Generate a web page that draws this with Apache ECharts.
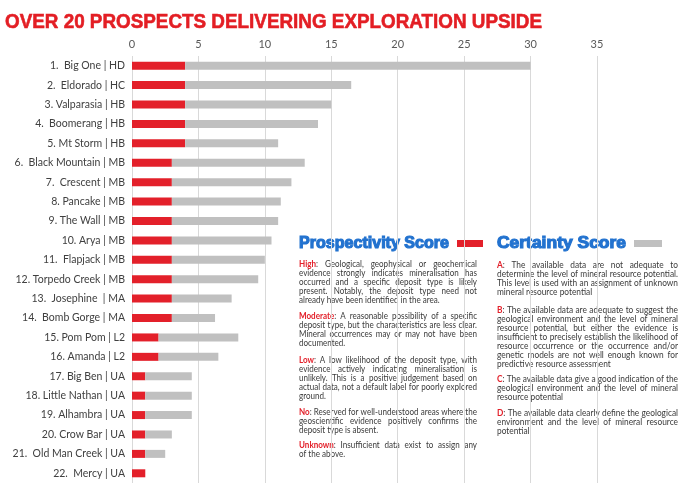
<!DOCTYPE html>
<html>
<head>
<meta charset="utf-8">
<script src="https://cdn.jsdelivr.net/npm/echarts@6/dist/echarts.min.js"></script>
<style>html,body{margin:0;padding:0;background:#fff;}#c{width:690px;height:491px;}</style>
</head>
<body>
<div id="c"></div>
<script>
const titleText = 'OVER 20 PROSPECTS DELIVERING EXPLORATION UPSIDE';
const categories = [
  '1.  Big One | HD', '2.  Eldorado | HC', '3. Valparasia | HB', '4.  Boomerang | HB',
  '5. Mt Storm | HB', '6.  Black Mountain | MB', '7.  Crescent | MB', '8. Pancake | MB',
  '9. The Wall | MB', '10. Arya | MB', '11.  Flapjack | MB', '12. Torpedo Creek | MB',
  '13.  Josephine  | MA', '14.  Bomb Gorge | MA', '15. Pom Pom | L2', '16. Amanda | L2',
  '17. Big Ben | UA', '18. Little Nathan | UA', '19. Alhambra | UA', '20. Crow Bar | UA',
  '21.  Old Man Creek | UA', '22.  Mercy | UA'
];
const prospectivity = [4, 4, 4, 4, 4, 3, 3, 3, 3, 3, 3, 3, 3, 3, 2, 2, 1, 1, 1, 1, 1, 1];
const certainty = [26, 12.5, 11, 10, 7, 10, 9, 8.2, 8, 7.5, 7, 6.5, 4.5, 3.25, 6, 4.5, 3.5, 3.5, 3.5, 2, 1.5, 0];
const axisMin = 0, axisMax = 35, axisStep = 5;

const legendProspect = 'Prospectivity Score';
const legendCertainty = 'Certainty Score';

const prospectParas = [
  { key: 'High', lines: ['Geological, geophysical or geochemical', 'evidence strongly indicates mineralisation has', 'occurred and a specific deposit type is likely', 'present. Notably, the deposit type need not', 'already have been identified in the area.'] },
  { key: 'Moderate', lines: ['A reasonable possibility of a specific', 'deposit type, but the characteristics are less clear.', 'Mineral occurrences may or may not have been', 'documented.'] },
  { key: 'Low', lines: ['A low likelihood of the deposit type, with', 'evidence actively indicating mineralisation is', 'unlikely. This is a positive judgement based on', 'actual data, not a default label for poorly explored', 'ground.'] },
  { key: 'No', lines: ['Reserved for well-understood areas where the', 'geoscientific evidence positively confirms the', 'deposit type is absent.'] },
  { key: 'Unknown', lines: ['Insufficient data exist to assign any', 'of the above.'] }
];
const certaintyParas = [
  { key: 'A', lines: ['The available data are not adequate to', 'determine the level of mineral resource potential.', 'This level is used with an assignment of unknown', 'mineral resource potential'] },
  { key: 'B', lines: ['The available data are adequate to suggest the', 'geological environment and the level of mineral', 'resource potential, but either the evidence is', 'insufficient to precisely establish the likelihood of', 'resource occurrence or the occurrence and/or', 'genetic models are not well enough known for', 'predictive resource assessment'] },
  { key: 'C', lines: ['The available data give a good indication of the', 'geological environment and the level of mineral', 'resource potential'] },
  { key: 'D', lines: ['The available data clearly define the geological', 'environment and the level of mineral resource', 'potential'] }
];

// ---- layout helpers ----
const RED = '#E3202A', GRAY = '#C0C0C0', BLUE = '#2272CF', TXT = '#3a3a3a';
const BODY_FONT = 'Lato, "Open Sans", sans-serif';
const cv = document.createElement('canvas').getContext('2d');
function tw(t, size, weight, family) { cv.font = weight + ' ' + size + 'px ' + family; return cv.measureText(t).width; }

const graphics = [];
function addText(x, y, text, size, weight, family, fill, sx, strokeW) {
  const style = { text: text, fontSize: size, fontWeight: weight, fontFamily: family, fill: fill, verticalAlign: 'middle', align: 'left' };
  if (strokeW) { style.stroke = fill; style.lineWidth = strokeW; }
  graphics.push({ type: 'text', x: x, y: y, scaleX: sx || 1, silent: true, style: style });
}

// title fit to width
const TF = '"Liberation Sans", Arial, sans-serif';
const titleSize = 20;
addText(5, 22, titleText, titleSize, 'bold', TF, '#E31E24', 537 / tw(titleText, titleSize, 'bold', TF), 0.6);

// legend headings
const HF = '"Liberation Sans", Arial, sans-serif';
const hs = 16;
addText(299, 244, legendProspect, hs, 'bold', HF, BLUE, 150 / tw(legendProspect, hs, 'bold', HF), 1.1);
addText(497, 244, legendCertainty, hs, 'bold', HF, BLUE, 129 / tw(legendCertainty, hs, 'bold', HF), 1.1);
graphics.push({ type: 'rect', shape: { x: 457, y: 240, width: 26, height: 7 }, style: { fill: RED }, silent: true });
graphics.push({ type: 'rect', shape: { x: 634, y: 240, width: 28, height: 7 }, style: { fill: GRAY }, silent: true });

function layoutColumn(paras, x0, colW, startYs, lh) {
  const fs = 9;
  let maxW = 0;
  paras.forEach(p => p.lines.forEach((l, i) => {
    let w = tw(l, fs, 'normal', BODY_FONT);
    if (i === 0) w += tw(p.key, fs, 'bold', BODY_FONT) + tw(': ', fs, 'normal', BODY_FONT);
    if (w > maxW) maxW = w;
  }));
  const sx = Math.min(1, colW / maxW);
  paras.forEach((p, pi) => {
    p.lines.forEach((line, li) => {
      const y = startYs[pi] + li * lh;
      let tokens = line.split(' ').map(w => ({ t: w }));
      if (li === 0) tokens.unshift({ t: p.key, colon: true });
      const widths = tokens.map(tk => sx * (tk.colon ? tw(tk.t, fs, 'bold', BODY_FONT) + tw(':', fs, 'normal', BODY_FONT) : tw(tk.t, fs, 'normal', BODY_FONT)));
      const sumW = widths.reduce((a, b) => a + b, 0);
      const last = li === p.lines.length - 1;
      const spaceW = sx * tw(' ', fs, 'normal', BODY_FONT);
      const gap = (!last && tokens.length > 1) ? (colW - sumW) / (tokens.length - 1) : spaceW;
      let x = x0;
      tokens.forEach((tk, k) => {
        if (tk.colon) {
          addText(x, y, tk.t, fs, 'bold', BODY_FONT, RED, sx);
          addText(x + sx * tw(tk.t, fs, 'bold', BODY_FONT), y, ':', fs, 'normal', BODY_FONT, TXT, sx);
        } else {
          addText(x, y, tk.t, fs, 'normal', BODY_FONT, TXT, sx);
        }
        x += widths[k] + gap;
      });
    });
  });
}
layoutColumn(prospectParas, 299, 178, [264, 316, 360, 412, 445], 9);
layoutColumn(certaintyParas, 497, 181, [265.5, 310, 379, 413], 9);

const chart = echarts.init(document.getElementById('c'), null, { renderer: 'canvas' });
chart.setOption({
  animation: false,
  backgroundColor: '#fff',
  grid: { left: 132, right: 93, top: 56, bottom: 8, containLabel: false },
  xAxis: {
    type: 'value', position: 'top', min: axisMin, max: axisMax, interval: axisStep,
    axisLine: { show: false }, axisTick: { show: false },
    axisLabel: { color: '#595959', fontSize: 11, fontFamily: BODY_FONT, margin: 6 },
    splitLine: { show: true, lineStyle: { color: '#D9D9D9', width: 1 } }
  },
  yAxis: {
    type: 'category', inverse: true, data: categories,
    axisLine: { show: false }, axisTick: { show: false },
    axisLabel: { color: '#404040', fontSize: 10.5, fontFamily: BODY_FONT, margin: 7 }
  },
  series: [
    { name: legendProspect, type: 'bar', stack: 's', data: prospectivity, barWidth: 8, itemStyle: { color: RED } },
    { name: legendCertainty, type: 'bar', stack: 's', data: certainty, barWidth: 8, itemStyle: { color: GRAY } }
  ],
  graphic: graphics
});
</script>
</body>
</html>
